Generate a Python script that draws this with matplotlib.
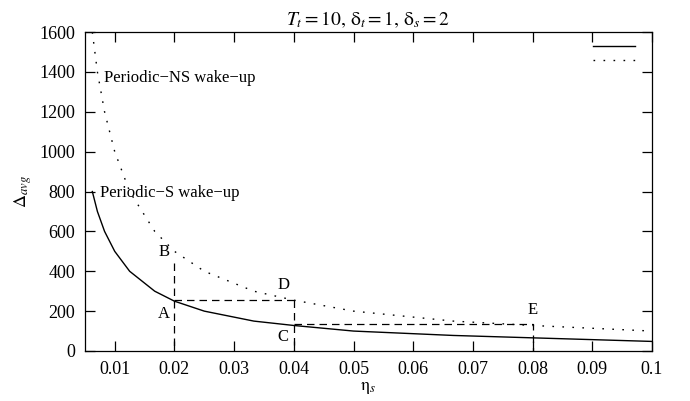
import matplotlib
matplotlib.use("Agg")
import matplotlib.pyplot as plt
from matplotlib.lines import Line2D

plt.rcParams['font.family'] = ['Liberation Serif', 'DejaVu Serif']
plt.rcParams['mathtext.fontset'] = 'stix'

# sampled eta_s values and average delay for the two wake-up schemes
eta_s = [0.00625, 0.0071, 0.0083, 0.01, 0.0125, 0.0167, 0.02, 0.025,
         0.0333, 0.04, 0.05, 0.0667, 0.08, 0.1]
delay_s = [800, 700, 600, 500, 400, 300, 250, 200, 150, 128, 100, 78, 66, 48]
delay_ns = [1600, 1400, 1200, 1000, 800, 600, 500, 400, 300, 255, 200, 150, 128, 100]

# guide path A -> B, A -> D -> C -> E
guide_x = [0.02, 0.02, 0.02, 0.04, 0.04, 0.04, 0.08, 0.08]
guide_y = [441, 0, 254, 254, 0, 136, 136, 0]

point_names = ['A', 'B', 'C', 'D', 'E']
point_x = [0.0182, 0.0182, 0.0382, 0.0382, 0.0800]
point_y = [186, 497, 72, 331, 205]

fig = plt.figure(figsize=(6.9, 4.01), dpi=100)
ax = fig.add_axes([0.123, 0.1247, 0.822, 0.7953])

ax.plot(eta_s, delay_s, color='black', lw=1.0)
ax.plot(eta_s, delay_ns, color='black', lw=1.0, linestyle=(0, (1.2, 6)))

for i0, i1 in [(0, 2), (2, 4), (3, 5), (5, 8)]:
    ax.plot(guide_x[i0:i1], guide_y[i0:i1], color='black', lw=0.9,
            linestyle=(0, (6, 4)))

for name, px, py in zip(point_names, point_x, point_y):
    ax.text(px, py, name, fontsize=12, ha='center', va='center')

ax.text(0.0082, 1370, 'Periodic\u2212NS wake\u2212up', fontsize=12,
        ha='left', va='center')
ax.text(0.0075, 795, 'Periodic\u2212S wake\u2212up', fontsize=12,
        ha='left', va='center')

ax.set_xlim(0.005, 0.1)
ax.set_ylim(0, 1600)
ax.set_xticks([0.01, 0.02, 0.03, 0.04, 0.05, 0.06, 0.07, 0.08, 0.09, 0.1])
ax.set_xticklabels(['0.01', '0.02', '0.03', '0.04', '0.05', '0.06', '0.07',
                    '0.08', '0.09', '0.1'])
ax.set_yticks([0, 200, 400, 600, 800, 1000, 1200, 1400, 1600])
ax.tick_params(direction='in', length=7, width=0.9, top=True, right=True,
               labelsize=13, pad=7)
for s in ax.spines.values():
    s.set_linewidth(0.9)

ax.set_title(r'$T_t = 10,\, \mathrm{\delta}_t = 1,\, \mathrm{\delta}_s = 2$',
             fontsize=14, pad=5)
ax.set_xlabel(r'$\mathrm{\eta}_s$', fontsize=13, labelpad=1)
ax.set_ylabel(r'$\Delta_{avg}$', fontsize=13, labelpad=4)

handles = [Line2D([], [], color='black', lw=1.0),
           Line2D([], [], color='black', lw=1.0, linestyle=(0, (1.2, 6)))]
ax.legend(handles, ['', ''], loc='upper right', frameon=False,
          handlelength=3.35, handletextpad=0.64, labelspacing=0.15,
          borderaxespad=0.36, fontsize=9)

fig.savefig('out.png', dpi=100)
